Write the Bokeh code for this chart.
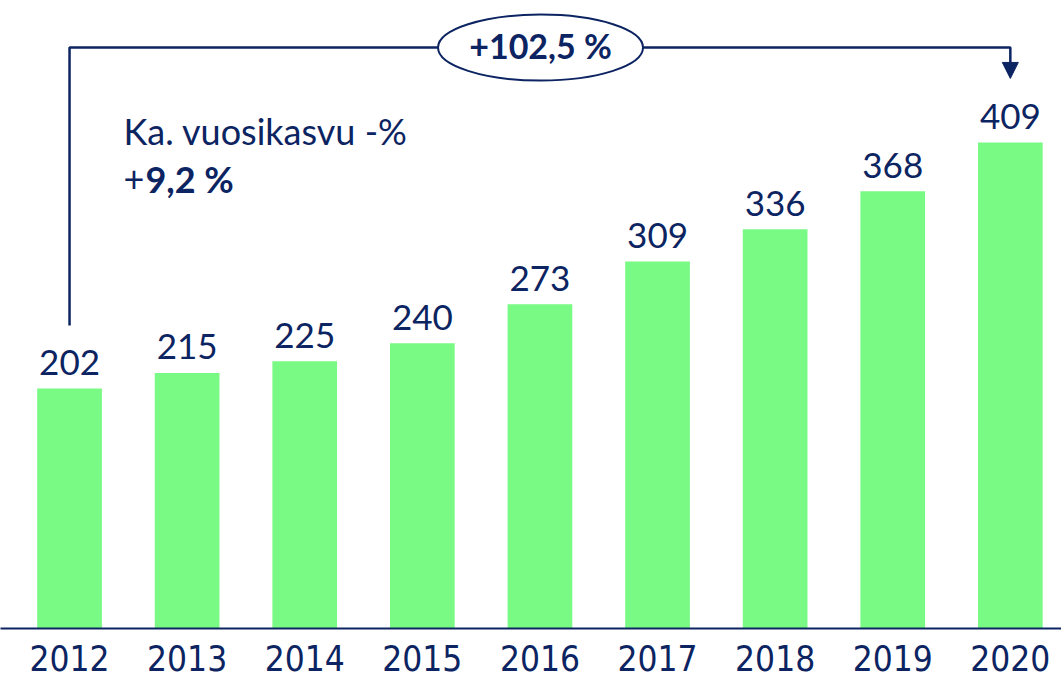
from bokeh.plotting import figure
from bokeh.models import Range1d, FixedTicker, ColumnDataSource, Arrow, NormalHead
from bokeh.core.properties import value
from bokeh.embed import file_html
from bokeh.resources import INLINE

years = ["2012", "2013", "2014", "2015", "2016", "2017", "2018", "2019", "2020"]
values = [202, 215, 225, 240, 273, 309, 336, 368, 409]
total_growth = "+102,5 %"
avg_title = "Ka. vuosikasvu -%"
avg_sign = "+"
avg_value = "9,2 %"

NAVY = "#0c2461"
GREEN = "#78fa84"
FONT = "Lato"
NARROW = "DejaVu Sans Condensed"

idx = list(range(len(years)))
label_gap = 22  # data units above bar top
src = ColumnDataSource(dict(x=idx, top=values, lab=[str(v) for v in values],
                            ly=[v + label_gap for v in values]))

p = figure(width=1061, height=682, output_backend="svg", toolbar_location=None,
           x_range=Range1d(-0.587, 8.435), y_range=Range1d(0, 528.6),
           y_axis_location=None, min_border_left=0, min_border_right=0,
           min_border_top=0, min_border_bottom=54)
p.outline_line_color = None
p.xgrid.visible = False
p.ygrid.visible = False
p.background_fill_color = "white"
p.border_fill_color = "white"

p.vbar(x="x", top="top", width=0.55, bottom=0, source=src, fill_color=GREEN, line_color=None)
p.text(x="x", y="ly", text="lab", source=src, text_align="center", text_baseline="alphabetic",
       text_font=value(FONT), text_font_size="35px", text_color=NAVY)

# connector
y_start = 255
y_top = 489
y_tip = 463
p.line(x=[0, 0, 8, 8], y=[y_start, y_top, y_top, y_tip + 12], line_color=NAVY, line_width=2.5)
p.add_layout(Arrow(x_start=8, y_start=y_tip + 14, x_end=8, y_end=y_tip,
                   line_color=NAVY, line_width=0,
                   end=NormalHead(size=16, fill_color=NAVY, line_color=NAVY)))
p.ellipse(x=[4.005], y=[y_top], width=[205], height=[66], width_units="screen", height_units="screen",
          fill_color="white", line_color=NAVY, line_width=2)
p.text(x=[4.005], y=[y_top + 1.5], text=[total_growth], text_align="center", text_baseline="middle",
       text_font=value(FONT), text_font_style="bold", text_font_size="34px", text_color=NAVY)

p.text(x=[0.459], y=[418.5], text=[avg_title], text_align="left", text_baseline="alphabetic",
       text_font=value(FONT), text_font_size="36px", text_color=NAVY)
p.text(x=[0.459], y=[378.5], text=[avg_sign], text_align="left", text_baseline="alphabetic",
       text_font=value(FONT), text_font_size="36px", text_color=NAVY)
p.text(x=[0.645], y=[378.5], text=[avg_value], text_align="left", text_baseline="alphabetic",
       text_font=value(FONT), text_font_style="bold", text_font_size="36px", text_color=NAVY)

ax = p.xaxis[0]
ax.ticker = FixedTicker(ticks=idx)
ax.major_label_overrides = {i: y for i, y in zip(idx, years)}
ax.axis_line_color = NAVY
ax.axis_line_width = 2
ax.major_tick_line_color = None
ax.minor_tick_line_color = None
ax.major_label_text_font = NARROW
ax.major_label_text_font_size = "35px"
ax.major_label_text_color = NAVY
ax.major_label_standoff = 10

open("out.html", "w").write(file_html(p, INLINE))
